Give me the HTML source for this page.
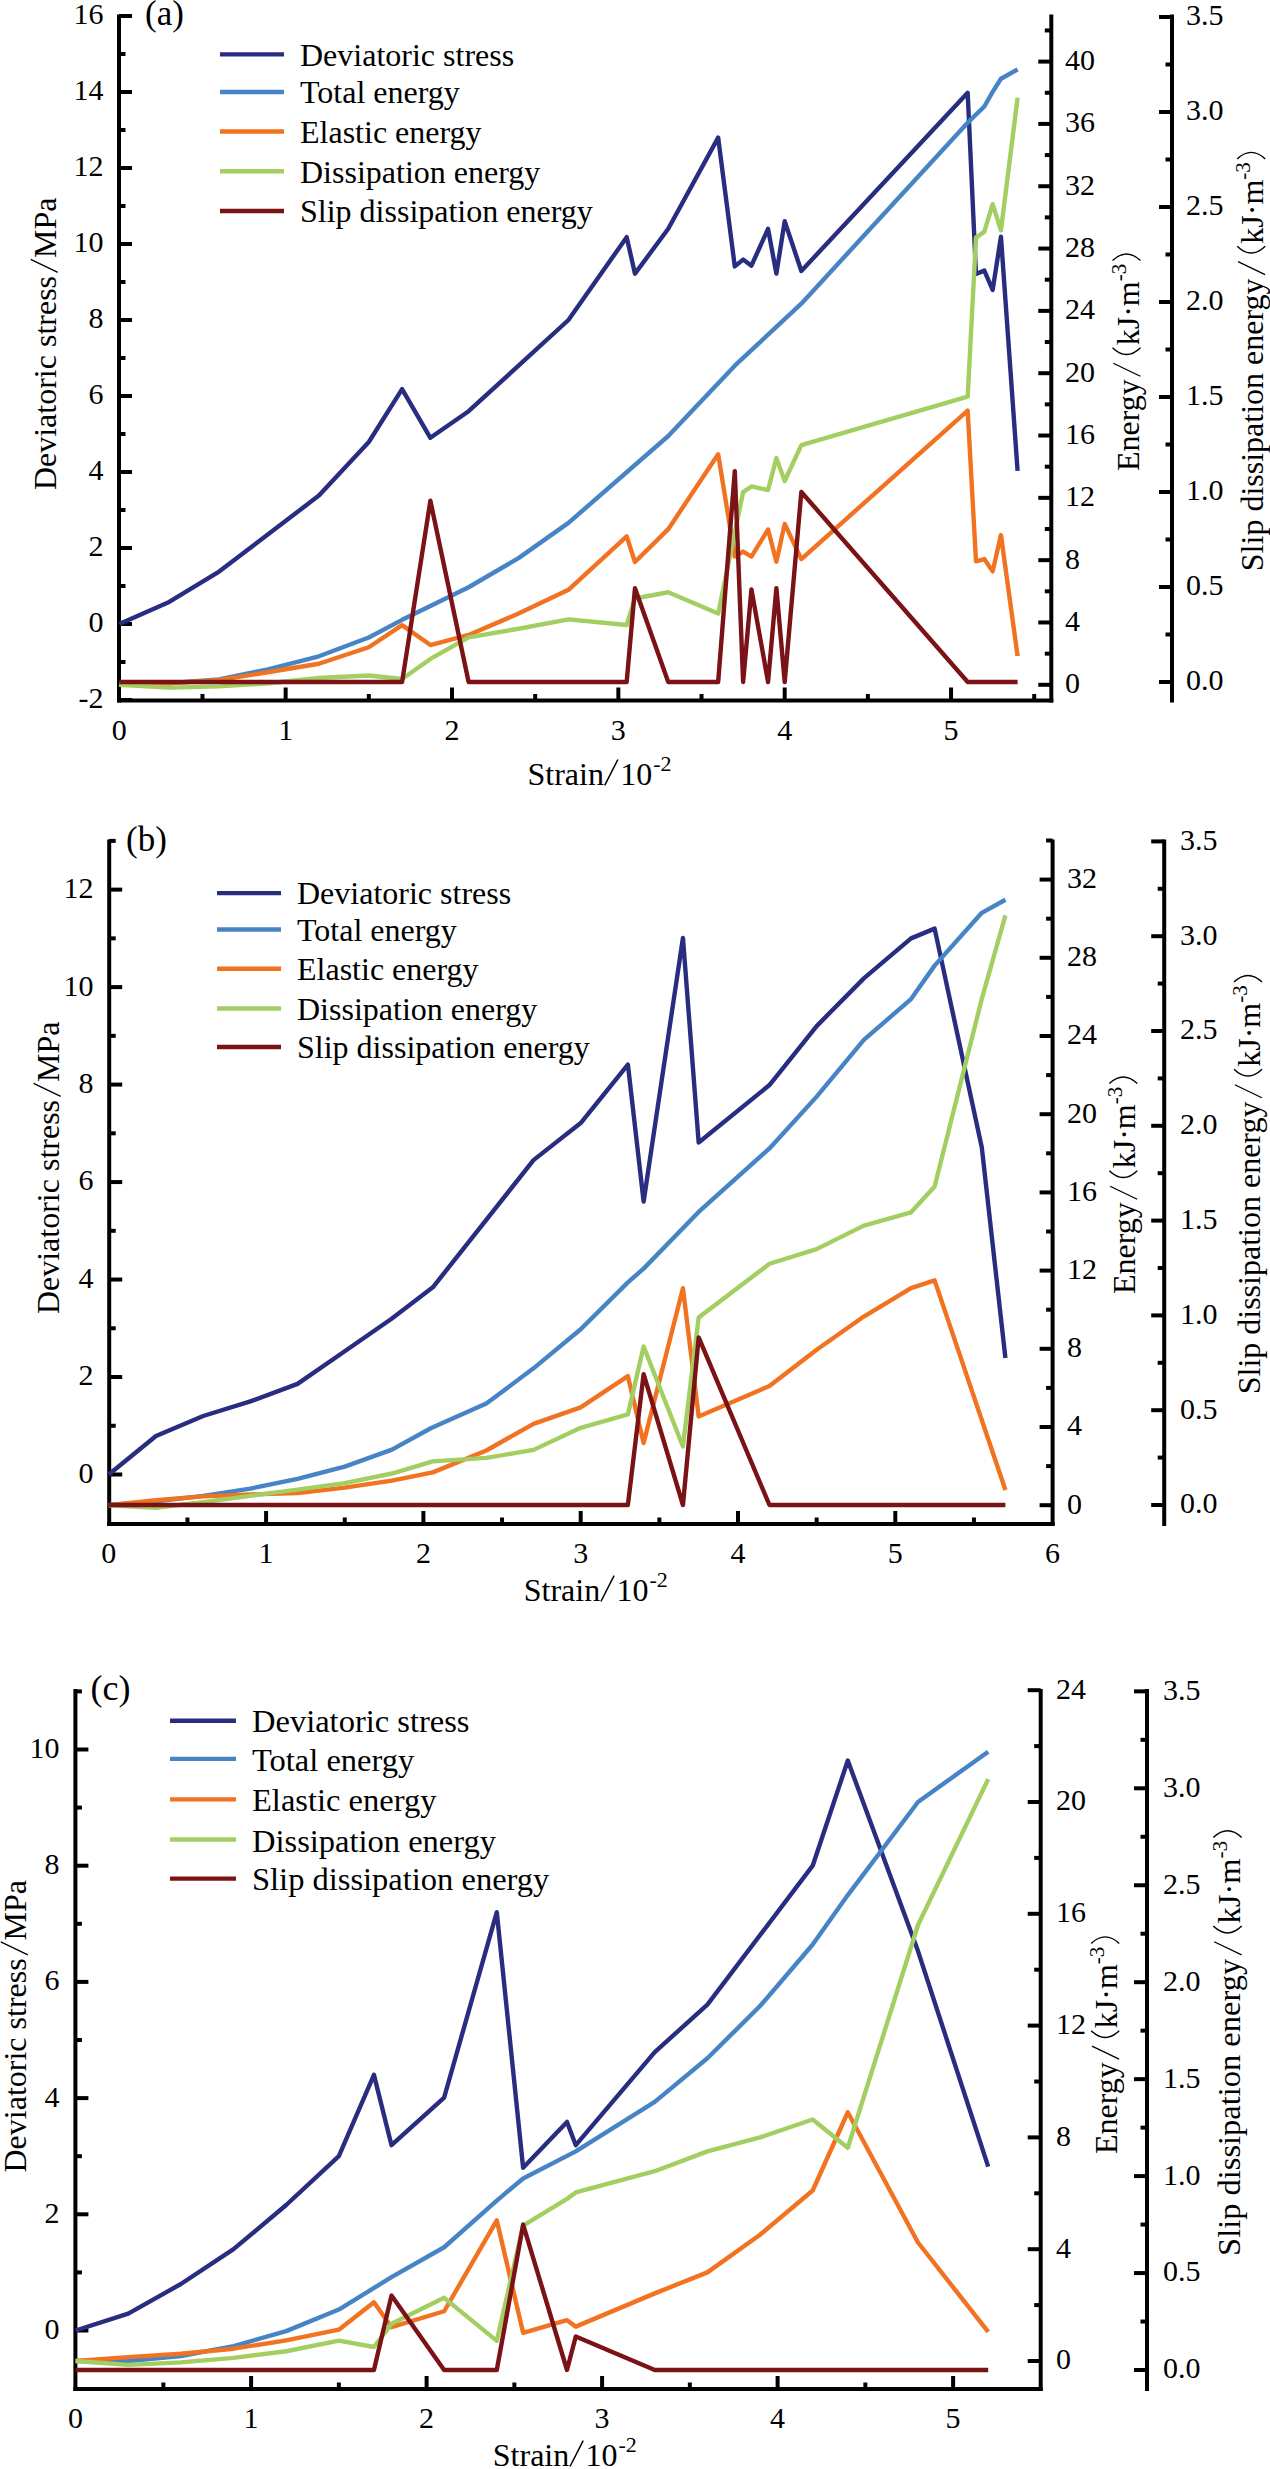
<!DOCTYPE html><html><head><meta charset="utf-8"><style>html,body{margin:0;padding:0;background:#fff;}svg{display:block;}</style></head><body>
<svg width="1270" height="2469" viewBox="0 0 1270 2469" font-family='"Liberation Serif", serif' fill="#000">
<rect width="1270" height="2469" fill="#fff"/>
<line x1="119" y1="14.5" x2="119" y2="702.5" stroke="#000" stroke-width="4.0" stroke-linecap="butt"/>
<line x1="117" y1="700.5" x2="1053.3" y2="700.5" stroke="#000" stroke-width="4.0" stroke-linecap="butt"/>
<line x1="1051.3" y1="14.5" x2="1051.3" y2="702.5" stroke="#000" stroke-width="4.0" stroke-linecap="butt"/>
<line x1="1172" y1="14.5" x2="1172" y2="702.5" stroke="#000" stroke-width="4.0" stroke-linecap="butt"/>
<line x1="119" y1="700" x2="132" y2="700" stroke="#000" stroke-width="4.0" stroke-linecap="butt"/>
<text x="103.5" y="708.4" font-size="30" text-anchor="end">-2</text>
<line x1="119" y1="662" x2="125.5" y2="662" stroke="#000" stroke-width="4.0" stroke-linecap="butt"/>
<line x1="119" y1="624" x2="132" y2="624" stroke="#000" stroke-width="4.0" stroke-linecap="butt"/>
<text x="103.5" y="632.4" font-size="30" text-anchor="end">0</text>
<line x1="119" y1="586" x2="125.5" y2="586" stroke="#000" stroke-width="4.0" stroke-linecap="butt"/>
<line x1="119" y1="548" x2="132" y2="548" stroke="#000" stroke-width="4.0" stroke-linecap="butt"/>
<text x="103.5" y="556.4" font-size="30" text-anchor="end">2</text>
<line x1="119" y1="510" x2="125.5" y2="510" stroke="#000" stroke-width="4.0" stroke-linecap="butt"/>
<line x1="119" y1="472" x2="132" y2="472" stroke="#000" stroke-width="4.0" stroke-linecap="butt"/>
<text x="103.5" y="480.4" font-size="30" text-anchor="end">4</text>
<line x1="119" y1="434" x2="125.5" y2="434" stroke="#000" stroke-width="4.0" stroke-linecap="butt"/>
<line x1="119" y1="396" x2="132" y2="396" stroke="#000" stroke-width="4.0" stroke-linecap="butt"/>
<text x="103.5" y="404.4" font-size="30" text-anchor="end">6</text>
<line x1="119" y1="358" x2="125.5" y2="358" stroke="#000" stroke-width="4.0" stroke-linecap="butt"/>
<line x1="119" y1="320" x2="132" y2="320" stroke="#000" stroke-width="4.0" stroke-linecap="butt"/>
<text x="103.5" y="328.4" font-size="30" text-anchor="end">8</text>
<line x1="119" y1="282" x2="125.5" y2="282" stroke="#000" stroke-width="4.0" stroke-linecap="butt"/>
<line x1="119" y1="244" x2="132" y2="244" stroke="#000" stroke-width="4.0" stroke-linecap="butt"/>
<text x="103.5" y="252.4" font-size="30" text-anchor="end">10</text>
<line x1="119" y1="206" x2="125.5" y2="206" stroke="#000" stroke-width="4.0" stroke-linecap="butt"/>
<line x1="119" y1="168" x2="132" y2="168" stroke="#000" stroke-width="4.0" stroke-linecap="butt"/>
<text x="103.5" y="176.4" font-size="30" text-anchor="end">12</text>
<line x1="119" y1="130" x2="125.5" y2="130" stroke="#000" stroke-width="4.0" stroke-linecap="butt"/>
<line x1="119" y1="92" x2="132" y2="92" stroke="#000" stroke-width="4.0" stroke-linecap="butt"/>
<text x="103.5" y="100.4" font-size="30" text-anchor="end">14</text>
<line x1="119" y1="54" x2="125.5" y2="54" stroke="#000" stroke-width="4.0" stroke-linecap="butt"/>
<line x1="119" y1="16" x2="132" y2="16" stroke="#000" stroke-width="4.0" stroke-linecap="butt"/>
<text x="103.5" y="24.4" font-size="30" text-anchor="end">16</text>
<text x="119.3" y="740" font-size="30" text-anchor="middle">0</text>
<line x1="202.47" y1="700.5" x2="202.47" y2="694" stroke="#000" stroke-width="4.0" stroke-linecap="butt"/>
<line x1="285.65" y1="700.5" x2="285.65" y2="687.5" stroke="#000" stroke-width="4.0" stroke-linecap="butt"/>
<text x="285.65" y="740" font-size="30" text-anchor="middle">1</text>
<line x1="368.82" y1="700.5" x2="368.82" y2="694" stroke="#000" stroke-width="4.0" stroke-linecap="butt"/>
<line x1="452" y1="700.5" x2="452" y2="687.5" stroke="#000" stroke-width="4.0" stroke-linecap="butt"/>
<text x="452" y="740" font-size="30" text-anchor="middle">2</text>
<line x1="535.17" y1="700.5" x2="535.17" y2="694" stroke="#000" stroke-width="4.0" stroke-linecap="butt"/>
<line x1="618.35" y1="700.5" x2="618.35" y2="687.5" stroke="#000" stroke-width="4.0" stroke-linecap="butt"/>
<text x="618.35" y="740" font-size="30" text-anchor="middle">3</text>
<line x1="701.52" y1="700.5" x2="701.52" y2="694" stroke="#000" stroke-width="4.0" stroke-linecap="butt"/>
<line x1="784.7" y1="700.5" x2="784.7" y2="687.5" stroke="#000" stroke-width="4.0" stroke-linecap="butt"/>
<text x="784.7" y="740" font-size="30" text-anchor="middle">4</text>
<line x1="867.87" y1="700.5" x2="867.87" y2="694" stroke="#000" stroke-width="4.0" stroke-linecap="butt"/>
<line x1="951.05" y1="700.5" x2="951.05" y2="687.5" stroke="#000" stroke-width="4.0" stroke-linecap="butt"/>
<text x="951.05" y="740" font-size="30" text-anchor="middle">5</text>
<line x1="1034.22" y1="700.5" x2="1034.22" y2="694" stroke="#000" stroke-width="4.0" stroke-linecap="butt"/>
<line x1="1051.3" y1="684.8" x2="1038.3" y2="684.8" stroke="#000" stroke-width="4.0" stroke-linecap="butt"/>
<text x="1065" y="693.2" font-size="30" text-anchor="start">0</text>
<line x1="1051.3" y1="653.64" x2="1044.8" y2="653.64" stroke="#000" stroke-width="4.0" stroke-linecap="butt"/>
<line x1="1051.3" y1="622.48" x2="1038.3" y2="622.48" stroke="#000" stroke-width="4.0" stroke-linecap="butt"/>
<text x="1065" y="630.88" font-size="30" text-anchor="start">4</text>
<line x1="1051.3" y1="591.32" x2="1044.8" y2="591.32" stroke="#000" stroke-width="4.0" stroke-linecap="butt"/>
<line x1="1051.3" y1="560.16" x2="1038.3" y2="560.16" stroke="#000" stroke-width="4.0" stroke-linecap="butt"/>
<text x="1065" y="568.56" font-size="30" text-anchor="start">8</text>
<line x1="1051.3" y1="529" x2="1044.8" y2="529" stroke="#000" stroke-width="4.0" stroke-linecap="butt"/>
<line x1="1051.3" y1="497.84" x2="1038.3" y2="497.84" stroke="#000" stroke-width="4.0" stroke-linecap="butt"/>
<text x="1065" y="506.24" font-size="30" text-anchor="start">12</text>
<line x1="1051.3" y1="466.68" x2="1044.8" y2="466.68" stroke="#000" stroke-width="4.0" stroke-linecap="butt"/>
<line x1="1051.3" y1="435.52" x2="1038.3" y2="435.52" stroke="#000" stroke-width="4.0" stroke-linecap="butt"/>
<text x="1065" y="443.92" font-size="30" text-anchor="start">16</text>
<line x1="1051.3" y1="404.36" x2="1044.8" y2="404.36" stroke="#000" stroke-width="4.0" stroke-linecap="butt"/>
<line x1="1051.3" y1="373.2" x2="1038.3" y2="373.2" stroke="#000" stroke-width="4.0" stroke-linecap="butt"/>
<text x="1065" y="381.6" font-size="30" text-anchor="start">20</text>
<line x1="1051.3" y1="342.04" x2="1044.8" y2="342.04" stroke="#000" stroke-width="4.0" stroke-linecap="butt"/>
<line x1="1051.3" y1="310.88" x2="1038.3" y2="310.88" stroke="#000" stroke-width="4.0" stroke-linecap="butt"/>
<text x="1065" y="319.28" font-size="30" text-anchor="start">24</text>
<line x1="1051.3" y1="279.72" x2="1044.8" y2="279.72" stroke="#000" stroke-width="4.0" stroke-linecap="butt"/>
<line x1="1051.3" y1="248.56" x2="1038.3" y2="248.56" stroke="#000" stroke-width="4.0" stroke-linecap="butt"/>
<text x="1065" y="256.96" font-size="30" text-anchor="start">28</text>
<line x1="1051.3" y1="217.4" x2="1044.8" y2="217.4" stroke="#000" stroke-width="4.0" stroke-linecap="butt"/>
<line x1="1051.3" y1="186.24" x2="1038.3" y2="186.24" stroke="#000" stroke-width="4.0" stroke-linecap="butt"/>
<text x="1065" y="194.64" font-size="30" text-anchor="start">32</text>
<line x1="1051.3" y1="155.08" x2="1044.8" y2="155.08" stroke="#000" stroke-width="4.0" stroke-linecap="butt"/>
<line x1="1051.3" y1="123.92" x2="1038.3" y2="123.92" stroke="#000" stroke-width="4.0" stroke-linecap="butt"/>
<text x="1065" y="132.32" font-size="30" text-anchor="start">36</text>
<line x1="1051.3" y1="92.76" x2="1044.8" y2="92.76" stroke="#000" stroke-width="4.0" stroke-linecap="butt"/>
<line x1="1051.3" y1="61.6" x2="1038.3" y2="61.6" stroke="#000" stroke-width="4.0" stroke-linecap="butt"/>
<text x="1065" y="70" font-size="30" text-anchor="start">40</text>
<line x1="1051.3" y1="30.44" x2="1044.8" y2="30.44" stroke="#000" stroke-width="4.0" stroke-linecap="butt"/>
<line x1="1172" y1="682" x2="1159" y2="682" stroke="#000" stroke-width="4.0" stroke-linecap="butt"/>
<text x="1186" y="690.4" font-size="30" text-anchor="start">0.0</text>
<line x1="1172" y1="634.5" x2="1165.5" y2="634.5" stroke="#000" stroke-width="4.0" stroke-linecap="butt"/>
<line x1="1172" y1="587" x2="1159" y2="587" stroke="#000" stroke-width="4.0" stroke-linecap="butt"/>
<text x="1186" y="595.4" font-size="30" text-anchor="start">0.5</text>
<line x1="1172" y1="539.5" x2="1165.5" y2="539.5" stroke="#000" stroke-width="4.0" stroke-linecap="butt"/>
<line x1="1172" y1="492" x2="1159" y2="492" stroke="#000" stroke-width="4.0" stroke-linecap="butt"/>
<text x="1186" y="500.4" font-size="30" text-anchor="start">1.0</text>
<line x1="1172" y1="444.5" x2="1165.5" y2="444.5" stroke="#000" stroke-width="4.0" stroke-linecap="butt"/>
<line x1="1172" y1="397" x2="1159" y2="397" stroke="#000" stroke-width="4.0" stroke-linecap="butt"/>
<text x="1186" y="405.4" font-size="30" text-anchor="start">1.5</text>
<line x1="1172" y1="349.5" x2="1165.5" y2="349.5" stroke="#000" stroke-width="4.0" stroke-linecap="butt"/>
<line x1="1172" y1="302" x2="1159" y2="302" stroke="#000" stroke-width="4.0" stroke-linecap="butt"/>
<text x="1186" y="310.4" font-size="30" text-anchor="start">2.0</text>
<line x1="1172" y1="254.5" x2="1165.5" y2="254.5" stroke="#000" stroke-width="4.0" stroke-linecap="butt"/>
<line x1="1172" y1="207" x2="1159" y2="207" stroke="#000" stroke-width="4.0" stroke-linecap="butt"/>
<text x="1186" y="215.4" font-size="30" text-anchor="start">2.5</text>
<line x1="1172" y1="159.5" x2="1165.5" y2="159.5" stroke="#000" stroke-width="4.0" stroke-linecap="butt"/>
<line x1="1172" y1="112" x2="1159" y2="112" stroke="#000" stroke-width="4.0" stroke-linecap="butt"/>
<text x="1186" y="120.4" font-size="30" text-anchor="start">3.0</text>
<line x1="1172" y1="64.5" x2="1165.5" y2="64.5" stroke="#000" stroke-width="4.0" stroke-linecap="butt"/>
<line x1="1172" y1="17" x2="1159" y2="17" stroke="#000" stroke-width="4.0" stroke-linecap="butt"/>
<text x="1186" y="25.4" font-size="30" text-anchor="start">3.5</text>
<polyline points="119.3,624 169.2,601.96 219.11,571.56 318.92,495.56 368.82,441.98 402.09,389.16 430.37,437.8 468.63,411.2 568.45,320 626.67,237.16 634.98,273.64 668.25,228.8 718.16,137.6 734.79,266.42 743.11,259.58 751.43,265.66 768.06,228.8 776.38,273.64 784.7,221.2 801.33,270.98 967.68,92.76 976,274.02 984.32,270.6 992.64,289.98 1000.95,236.78 1017.59,470.86" fill="none" stroke="#282d80" stroke-width="4.4" stroke-linejoin="round" stroke-linecap="butt"/>
<polyline points="119.3,684.8 169.2,683.24 219.11,679.35 269.01,669.06 318.92,656.29 368.82,637.44 402.09,619.83 430.37,605.97 468.63,587.27 518.54,558.13 568.45,522.92 668.25,435.99 734.79,365.72 801.33,303.71 967.68,122.67 984.32,106.47 992.64,91.83 1000.95,78.74 1017.59,69.39" fill="none" stroke="#4784c5" stroke-width="4.4" stroke-linejoin="round" stroke-linecap="butt"/>
<polyline points="119.3,684.8 169.2,683.24 219.11,680.13 269.01,672.02 318.92,663.77 368.82,647.25 402.09,625.13 430.37,645.07 468.63,634.94 518.54,613.6 568.45,589.76 626.67,536.32 634.98,562.03 668.25,529.16 718.16,454.22 734.79,556.58 743.11,551.59 751.43,556.58 768.06,529.47 776.38,561.72 784.7,523.86 801.33,559.07 967.68,410.59 976,561.41 984.32,559.07 992.64,571.38 1000.95,535.08 1017.59,655.98" fill="none" stroke="#f17220" stroke-width="4.4" stroke-linejoin="round" stroke-linecap="butt"/>
<polyline points="119.3,684.8 169.2,687.6 219.11,686.36 269.01,683.24 318.92,677.94 368.82,675.45 402.09,679.04 430.37,658.94 468.63,637.44 518.54,628.71 568.45,619.36 626.67,624.97 634.98,598.49 668.25,592.25 718.16,613.6 743.11,492.08 751.43,486.47 768.06,490.05 776.38,458.11 784.7,481.01 801.33,445.18 967.68,396.57 976,237.65 984.32,231.73 992.64,204.16 1000.95,230.33 1017.59,97.75" fill="none" stroke="#a3ce61" stroke-width="4.4" stroke-linejoin="round" stroke-linecap="butt"/>
<polyline points="119.3,682 402.09,682 430.37,500.74 468.63,682 626.67,682 634.98,588.14 668.25,682 718.16,682 734.79,471.1 743.11,682 751.43,589.47 768.06,682 776.38,588.14 784.7,682 801.33,492 967.68,682 1017.59,682" fill="none" stroke="#7b1216" stroke-width="4.4" stroke-linejoin="round" stroke-linecap="butt"/>
<line x1="220" y1="54.4" x2="284" y2="54.4" stroke="#282d80" stroke-width="4.4" stroke-linecap="butt"/>
<text x="300" y="65.6" font-size="32" text-anchor="start">Deviatoric stress</text>
<line x1="220" y1="92" x2="284" y2="92" stroke="#4784c5" stroke-width="4.4" stroke-linecap="butt"/>
<text x="300" y="103.2" font-size="32" text-anchor="start">Total energy</text>
<line x1="220" y1="131.5" x2="284" y2="131.5" stroke="#f17220" stroke-width="4.4" stroke-linecap="butt"/>
<text x="300" y="142.7" font-size="32" text-anchor="start">Elastic energy</text>
<line x1="220" y1="171.3" x2="284" y2="171.3" stroke="#a3ce61" stroke-width="4.4" stroke-linecap="butt"/>
<text x="300" y="182.5" font-size="32" text-anchor="start">Dissipation energy</text>
<line x1="220" y1="211" x2="284" y2="211" stroke="#7b1216" stroke-width="4.4" stroke-linecap="butt"/>
<text x="300" y="222.2" font-size="32" text-anchor="start">Slip dissipation energy</text>
<text x="145" y="25" font-size="35" text-anchor="start">(a)</text>
<g transform="translate(528.8 784.7)">
<text x="-1.3" y="0" font-size="32">Strain</text>
<path d="M75.9 0.6 L89.1 -25.2" stroke="#000" stroke-width="1.5" fill="none"/>
<text x="91.5" y="0" font-size="32">10</text>
<text x="124.4" y="-13.9" font-size="22">-2</text>
</g>
<g transform="translate(55.9 489.6) rotate(-90)">
<text x="-0.5" y="0" font-size="32">Deviatoric stress</text>
<path d="M217.16 1.9 L230.16 -25.2" stroke="#000" stroke-width="1.3" fill="none"/>
<text x="231.56" y="0" font-size="32">MPa</text>
</g>
<g transform="translate(1138.5 470.6) rotate(-90) scale(1.0)">
<text x="-0.5" y="0" font-size="32">Energy</text>
<path d="M94.33 1.9 L107.33 -25.2" stroke="#000" stroke-width="1.3" fill="none"/>
<path d="M122.83 2 Q109.23 -12 122.83 -26" stroke="#000" stroke-width="1.4" fill="none"/>
<text x="125.33" y="0" font-size="32">kJ·m</text>
<text x="189.33" y="-13" font-size="21">-3</text>
<path d="M210.03 2 Q223.23 -12 210.03 -26" stroke="#000" stroke-width="1.4" fill="none"/>
</g>
<g transform="translate(1263.2 569.9) rotate(-90) scale(1.0)">
<text x="-1.3" y="0" font-size="32">Slip dissipation energy</text>
<path d="M295.23 1.9 L308.23 -25.2" stroke="#000" stroke-width="1.3" fill="none"/>
<path d="M323.73 2 Q310.13 -12 323.73 -26" stroke="#000" stroke-width="1.4" fill="none"/>
<text x="326.23" y="0" font-size="32">kJ·m</text>
<text x="390.23" y="-13" font-size="21">-3</text>
<path d="M410.93 2 Q424.13 -12 410.93 -26" stroke="#000" stroke-width="1.4" fill="none"/>
</g>
<line x1="109.2" y1="839.5" x2="109.2" y2="1526" stroke="#000" stroke-width="4.0" stroke-linecap="butt"/>
<line x1="107.2" y1="1524" x2="1054.6" y2="1524" stroke="#000" stroke-width="4.0" stroke-linecap="butt"/>
<line x1="1052.6" y1="839.5" x2="1052.6" y2="1526" stroke="#000" stroke-width="4.0" stroke-linecap="butt"/>
<line x1="1164.2" y1="839.5" x2="1164.2" y2="1526" stroke="#000" stroke-width="4.0" stroke-linecap="butt"/>
<line x1="109.2" y1="1474.5" x2="122.2" y2="1474.5" stroke="#000" stroke-width="4.0" stroke-linecap="butt"/>
<text x="93.5" y="1482.9" font-size="30" text-anchor="end">0</text>
<line x1="109.2" y1="1425.76" x2="115.7" y2="1425.76" stroke="#000" stroke-width="4.0" stroke-linecap="butt"/>
<line x1="109.2" y1="1377.02" x2="122.2" y2="1377.02" stroke="#000" stroke-width="4.0" stroke-linecap="butt"/>
<text x="93.5" y="1385.42" font-size="30" text-anchor="end">2</text>
<line x1="109.2" y1="1328.28" x2="115.7" y2="1328.28" stroke="#000" stroke-width="4.0" stroke-linecap="butt"/>
<line x1="109.2" y1="1279.54" x2="122.2" y2="1279.54" stroke="#000" stroke-width="4.0" stroke-linecap="butt"/>
<text x="93.5" y="1287.94" font-size="30" text-anchor="end">4</text>
<line x1="109.2" y1="1230.8" x2="115.7" y2="1230.8" stroke="#000" stroke-width="4.0" stroke-linecap="butt"/>
<line x1="109.2" y1="1182.06" x2="122.2" y2="1182.06" stroke="#000" stroke-width="4.0" stroke-linecap="butt"/>
<text x="93.5" y="1190.46" font-size="30" text-anchor="end">6</text>
<line x1="109.2" y1="1133.32" x2="115.7" y2="1133.32" stroke="#000" stroke-width="4.0" stroke-linecap="butt"/>
<line x1="109.2" y1="1084.58" x2="122.2" y2="1084.58" stroke="#000" stroke-width="4.0" stroke-linecap="butt"/>
<text x="93.5" y="1092.98" font-size="30" text-anchor="end">8</text>
<line x1="109.2" y1="1035.84" x2="115.7" y2="1035.84" stroke="#000" stroke-width="4.0" stroke-linecap="butt"/>
<line x1="109.2" y1="987.1" x2="122.2" y2="987.1" stroke="#000" stroke-width="4.0" stroke-linecap="butt"/>
<text x="93.5" y="995.5" font-size="30" text-anchor="end">10</text>
<line x1="109.2" y1="938.36" x2="115.7" y2="938.36" stroke="#000" stroke-width="4.0" stroke-linecap="butt"/>
<line x1="109.2" y1="889.62" x2="122.2" y2="889.62" stroke="#000" stroke-width="4.0" stroke-linecap="butt"/>
<text x="93.5" y="898.02" font-size="30" text-anchor="end">12</text>
<line x1="109.2" y1="840.88" x2="115.7" y2="840.88" stroke="#000" stroke-width="4.0" stroke-linecap="butt"/>
<text x="108.8" y="1563" font-size="30" text-anchor="middle">0</text>
<line x1="187.45" y1="1524" x2="187.45" y2="1517.5" stroke="#000" stroke-width="4.0" stroke-linecap="butt"/>
<line x1="266.1" y1="1524" x2="266.1" y2="1511" stroke="#000" stroke-width="4.0" stroke-linecap="butt"/>
<text x="266.1" y="1563" font-size="30" text-anchor="middle">1</text>
<line x1="344.75" y1="1524" x2="344.75" y2="1517.5" stroke="#000" stroke-width="4.0" stroke-linecap="butt"/>
<line x1="423.4" y1="1524" x2="423.4" y2="1511" stroke="#000" stroke-width="4.0" stroke-linecap="butt"/>
<text x="423.4" y="1563" font-size="30" text-anchor="middle">2</text>
<line x1="502.05" y1="1524" x2="502.05" y2="1517.5" stroke="#000" stroke-width="4.0" stroke-linecap="butt"/>
<line x1="580.7" y1="1524" x2="580.7" y2="1511" stroke="#000" stroke-width="4.0" stroke-linecap="butt"/>
<text x="580.7" y="1563" font-size="30" text-anchor="middle">3</text>
<line x1="659.35" y1="1524" x2="659.35" y2="1517.5" stroke="#000" stroke-width="4.0" stroke-linecap="butt"/>
<line x1="738" y1="1524" x2="738" y2="1511" stroke="#000" stroke-width="4.0" stroke-linecap="butt"/>
<text x="738" y="1563" font-size="30" text-anchor="middle">4</text>
<line x1="816.65" y1="1524" x2="816.65" y2="1517.5" stroke="#000" stroke-width="4.0" stroke-linecap="butt"/>
<line x1="895.3" y1="1524" x2="895.3" y2="1511" stroke="#000" stroke-width="4.0" stroke-linecap="butt"/>
<text x="895.3" y="1563" font-size="30" text-anchor="middle">5</text>
<line x1="973.95" y1="1524" x2="973.95" y2="1517.5" stroke="#000" stroke-width="4.0" stroke-linecap="butt"/>
<text x="1052.6" y="1563" font-size="30" text-anchor="middle">6</text>
<line x1="1052.6" y1="1505.2" x2="1039.6" y2="1505.2" stroke="#000" stroke-width="4.0" stroke-linecap="butt"/>
<text x="1067" y="1513.6" font-size="30" text-anchor="start">0</text>
<line x1="1052.6" y1="1466.1" x2="1046.1" y2="1466.1" stroke="#000" stroke-width="4.0" stroke-linecap="butt"/>
<line x1="1052.6" y1="1427" x2="1039.6" y2="1427" stroke="#000" stroke-width="4.0" stroke-linecap="butt"/>
<text x="1067" y="1435.4" font-size="30" text-anchor="start">4</text>
<line x1="1052.6" y1="1387.9" x2="1046.1" y2="1387.9" stroke="#000" stroke-width="4.0" stroke-linecap="butt"/>
<line x1="1052.6" y1="1348.8" x2="1039.6" y2="1348.8" stroke="#000" stroke-width="4.0" stroke-linecap="butt"/>
<text x="1067" y="1357.2" font-size="30" text-anchor="start">8</text>
<line x1="1052.6" y1="1309.7" x2="1046.1" y2="1309.7" stroke="#000" stroke-width="4.0" stroke-linecap="butt"/>
<line x1="1052.6" y1="1270.6" x2="1039.6" y2="1270.6" stroke="#000" stroke-width="4.0" stroke-linecap="butt"/>
<text x="1067" y="1279" font-size="30" text-anchor="start">12</text>
<line x1="1052.6" y1="1231.5" x2="1046.1" y2="1231.5" stroke="#000" stroke-width="4.0" stroke-linecap="butt"/>
<line x1="1052.6" y1="1192.4" x2="1039.6" y2="1192.4" stroke="#000" stroke-width="4.0" stroke-linecap="butt"/>
<text x="1067" y="1200.8" font-size="30" text-anchor="start">16</text>
<line x1="1052.6" y1="1153.3" x2="1046.1" y2="1153.3" stroke="#000" stroke-width="4.0" stroke-linecap="butt"/>
<line x1="1052.6" y1="1114.2" x2="1039.6" y2="1114.2" stroke="#000" stroke-width="4.0" stroke-linecap="butt"/>
<text x="1067" y="1122.6" font-size="30" text-anchor="start">20</text>
<line x1="1052.6" y1="1075.1" x2="1046.1" y2="1075.1" stroke="#000" stroke-width="4.0" stroke-linecap="butt"/>
<line x1="1052.6" y1="1036" x2="1039.6" y2="1036" stroke="#000" stroke-width="4.0" stroke-linecap="butt"/>
<text x="1067" y="1044.4" font-size="30" text-anchor="start">24</text>
<line x1="1052.6" y1="996.9" x2="1046.1" y2="996.9" stroke="#000" stroke-width="4.0" stroke-linecap="butt"/>
<line x1="1052.6" y1="957.8" x2="1039.6" y2="957.8" stroke="#000" stroke-width="4.0" stroke-linecap="butt"/>
<text x="1067" y="966.2" font-size="30" text-anchor="start">28</text>
<line x1="1052.6" y1="918.7" x2="1046.1" y2="918.7" stroke="#000" stroke-width="4.0" stroke-linecap="butt"/>
<line x1="1052.6" y1="879.6" x2="1039.6" y2="879.6" stroke="#000" stroke-width="4.0" stroke-linecap="butt"/>
<text x="1067" y="888" font-size="30" text-anchor="start">32</text>
<line x1="1052.6" y1="840.5" x2="1046.1" y2="840.5" stroke="#000" stroke-width="4.0" stroke-linecap="butt"/>
<line x1="1164.2" y1="1505" x2="1151.2" y2="1505" stroke="#000" stroke-width="4.0" stroke-linecap="butt"/>
<text x="1180" y="1513.4" font-size="30" text-anchor="start">0.0</text>
<line x1="1164.2" y1="1457.6" x2="1157.7" y2="1457.6" stroke="#000" stroke-width="4.0" stroke-linecap="butt"/>
<line x1="1164.2" y1="1410.2" x2="1151.2" y2="1410.2" stroke="#000" stroke-width="4.0" stroke-linecap="butt"/>
<text x="1180" y="1418.6" font-size="30" text-anchor="start">0.5</text>
<line x1="1164.2" y1="1362.8" x2="1157.7" y2="1362.8" stroke="#000" stroke-width="4.0" stroke-linecap="butt"/>
<line x1="1164.2" y1="1315.4" x2="1151.2" y2="1315.4" stroke="#000" stroke-width="4.0" stroke-linecap="butt"/>
<text x="1180" y="1323.8" font-size="30" text-anchor="start">1.0</text>
<line x1="1164.2" y1="1268" x2="1157.7" y2="1268" stroke="#000" stroke-width="4.0" stroke-linecap="butt"/>
<line x1="1164.2" y1="1220.6" x2="1151.2" y2="1220.6" stroke="#000" stroke-width="4.0" stroke-linecap="butt"/>
<text x="1180" y="1229" font-size="30" text-anchor="start">1.5</text>
<line x1="1164.2" y1="1173.2" x2="1157.7" y2="1173.2" stroke="#000" stroke-width="4.0" stroke-linecap="butt"/>
<line x1="1164.2" y1="1125.8" x2="1151.2" y2="1125.8" stroke="#000" stroke-width="4.0" stroke-linecap="butt"/>
<text x="1180" y="1134.2" font-size="30" text-anchor="start">2.0</text>
<line x1="1164.2" y1="1078.4" x2="1157.7" y2="1078.4" stroke="#000" stroke-width="4.0" stroke-linecap="butt"/>
<line x1="1164.2" y1="1031" x2="1151.2" y2="1031" stroke="#000" stroke-width="4.0" stroke-linecap="butt"/>
<text x="1180" y="1039.4" font-size="30" text-anchor="start">2.5</text>
<line x1="1164.2" y1="983.6" x2="1157.7" y2="983.6" stroke="#000" stroke-width="4.0" stroke-linecap="butt"/>
<line x1="1164.2" y1="936.2" x2="1151.2" y2="936.2" stroke="#000" stroke-width="4.0" stroke-linecap="butt"/>
<text x="1180" y="944.6" font-size="30" text-anchor="start">3.0</text>
<line x1="1164.2" y1="888.8" x2="1157.7" y2="888.8" stroke="#000" stroke-width="4.0" stroke-linecap="butt"/>
<line x1="1164.2" y1="841.4" x2="1151.2" y2="841.4" stroke="#000" stroke-width="4.0" stroke-linecap="butt"/>
<text x="1180" y="849.8" font-size="30" text-anchor="start">3.5</text>
<polyline points="108.8,1474.5 155.99,1436 203.18,1416.01 250.37,1401.39 297.56,1383.84 344.75,1351.19 391.94,1318.53 432.84,1287.34 533.51,1160.13 580.7,1123.08 627.89,1064.6 643.62,1201.56 682.94,937.87 698.67,1142.58 769.46,1085.07 816.65,1026.09 863.84,978.33 911.03,938.36 934.62,928.61 981.81,1147.45 1005.41,1358.01" fill="none" stroke="#282d80" stroke-width="4.4" stroke-linejoin="round" stroke-linecap="butt"/>
<polyline points="108.8,1505.2 155.99,1501.29 203.18,1495.82 250.37,1488.58 297.56,1478.81 344.75,1466.69 391.94,1449.68 431.26,1427.98 486.32,1403.54 533.51,1368.35 580.7,1329.25 627.89,1282.33 643.62,1268.64 698.67,1211.95 769.46,1148.41 816.65,1096.61 863.84,1039.91 911.03,999.05 934.62,965.62 981.81,912.84 1005.41,899.74" fill="none" stroke="#4784c5" stroke-width="4.4" stroke-linejoin="round" stroke-linecap="butt"/>
<polyline points="108.8,1505.2 155.99,1500.31 203.18,1496.4 250.37,1494.45 297.56,1493.08 344.75,1487.61 391.94,1480.57 432.84,1472.36 486.32,1450.46 533.51,1423.87 580.7,1407.45 627.89,1376.17 643.62,1443.03 682.94,1288.2 698.67,1416.44 769.46,1385.95 816.65,1349.78 863.84,1316.54 911.03,1288.2 934.62,1280.38 1005.41,1489.95" fill="none" stroke="#f17220" stroke-width="4.4" stroke-linejoin="round" stroke-linecap="butt"/>
<polyline points="108.8,1505.2 155.99,1507.74 203.18,1502.07 250.37,1495.82 297.56,1489.56 344.75,1483.11 391.94,1473.53 432.84,1461.41 486.32,1457.89 533.51,1449.87 580.7,1427.78 627.89,1414.49 643.62,1346.45 682.94,1446.55 698.67,1317.52 769.46,1263.76 816.65,1249.1 863.84,1225.63 911.03,1212.34 934.62,1186.54 981.81,998.86 1005.41,915.38" fill="none" stroke="#a3ce61" stroke-width="4.4" stroke-linejoin="round" stroke-linecap="butt"/>
<polyline points="108.8,1505 627.89,1505 643.62,1374.18 682.94,1505 698.67,1337.39 769.46,1505 1005.41,1505" fill="none" stroke="#7b1216" stroke-width="4.4" stroke-linejoin="round" stroke-linecap="butt"/>
<line x1="217" y1="893.1" x2="281" y2="893.1" stroke="#282d80" stroke-width="4.4" stroke-linecap="butt"/>
<text x="297" y="904.3" font-size="32" text-anchor="start">Deviatoric stress</text>
<line x1="217" y1="929.5" x2="281" y2="929.5" stroke="#4784c5" stroke-width="4.4" stroke-linecap="butt"/>
<text x="297" y="940.7" font-size="32" text-anchor="start">Total energy</text>
<line x1="217" y1="968.8" x2="281" y2="968.8" stroke="#f17220" stroke-width="4.4" stroke-linecap="butt"/>
<text x="297" y="980" font-size="32" text-anchor="start">Elastic energy</text>
<line x1="217" y1="1008.5" x2="281" y2="1008.5" stroke="#a3ce61" stroke-width="4.4" stroke-linecap="butt"/>
<text x="297" y="1019.7" font-size="32" text-anchor="start">Dissipation energy</text>
<line x1="217" y1="1047" x2="281" y2="1047" stroke="#7b1216" stroke-width="4.4" stroke-linecap="butt"/>
<text x="297" y="1058.2" font-size="32" text-anchor="start">Slip dissipation energy</text>
<text x="126" y="851.2" font-size="35" text-anchor="start">(b)</text>
<g transform="translate(525 1600.9)">
<text x="-1.3" y="0" font-size="32">Strain</text>
<path d="M75.9 0.6 L89.1 -25.2" stroke="#000" stroke-width="1.5" fill="none"/>
<text x="91.5" y="0" font-size="32">10</text>
<text x="124.4" y="-13.9" font-size="22">-2</text>
</g>
<g transform="translate(58.8 1313.6) rotate(-90)">
<text x="-0.5" y="0" font-size="32">Deviatoric stress</text>
<path d="M217.16 1.9 L230.16 -25.2" stroke="#000" stroke-width="1.3" fill="none"/>
<text x="231.56" y="0" font-size="32">MPa</text>
</g>
<g transform="translate(1135.3 1293.6) rotate(-90) scale(1.0)">
<text x="-0.5" y="0" font-size="32">Energy</text>
<path d="M94.33 1.9 L107.33 -25.2" stroke="#000" stroke-width="1.3" fill="none"/>
<path d="M122.83 2 Q109.23 -12 122.83 -26" stroke="#000" stroke-width="1.4" fill="none"/>
<text x="125.33" y="0" font-size="32">kJ·m</text>
<text x="189.33" y="-13" font-size="21">-3</text>
<path d="M210.03 2 Q223.23 -12 210.03 -26" stroke="#000" stroke-width="1.4" fill="none"/>
</g>
<g transform="translate(1260 1393) rotate(-90) scale(1.0)">
<text x="-1.3" y="0" font-size="32">Slip dissipation energy</text>
<path d="M295.23 1.9 L308.23 -25.2" stroke="#000" stroke-width="1.3" fill="none"/>
<path d="M323.73 2 Q310.13 -12 323.73 -26" stroke="#000" stroke-width="1.4" fill="none"/>
<text x="326.23" y="0" font-size="32">kJ·m</text>
<text x="390.23" y="-13" font-size="21">-3</text>
<path d="M410.93 2 Q424.13 -12 410.93 -26" stroke="#000" stroke-width="1.4" fill="none"/>
</g>
<line x1="75.4" y1="1689" x2="75.4" y2="2391" stroke="#000" stroke-width="4.0" stroke-linecap="butt"/>
<line x1="73.4" y1="2389" x2="1042.7" y2="2389" stroke="#000" stroke-width="4.0" stroke-linecap="butt"/>
<line x1="1040.7" y1="1689" x2="1040.7" y2="2391" stroke="#000" stroke-width="4.0" stroke-linecap="butt"/>
<line x1="1147" y1="1689" x2="1147" y2="2391" stroke="#000" stroke-width="4.0" stroke-linecap="butt"/>
<line x1="75.4" y1="2330.5" x2="88.4" y2="2330.5" stroke="#000" stroke-width="4.0" stroke-linecap="butt"/>
<text x="59.5" y="2338.9" font-size="30" text-anchor="end">0</text>
<line x1="75.4" y1="2272.4" x2="81.9" y2="2272.4" stroke="#000" stroke-width="4.0" stroke-linecap="butt"/>
<line x1="75.4" y1="2214.3" x2="88.4" y2="2214.3" stroke="#000" stroke-width="4.0" stroke-linecap="butt"/>
<text x="59.5" y="2222.7" font-size="30" text-anchor="end">2</text>
<line x1="75.4" y1="2156.2" x2="81.9" y2="2156.2" stroke="#000" stroke-width="4.0" stroke-linecap="butt"/>
<line x1="75.4" y1="2098.1" x2="88.4" y2="2098.1" stroke="#000" stroke-width="4.0" stroke-linecap="butt"/>
<text x="59.5" y="2106.5" font-size="30" text-anchor="end">4</text>
<line x1="75.4" y1="2040" x2="81.9" y2="2040" stroke="#000" stroke-width="4.0" stroke-linecap="butt"/>
<line x1="75.4" y1="1981.9" x2="88.4" y2="1981.9" stroke="#000" stroke-width="4.0" stroke-linecap="butt"/>
<text x="59.5" y="1990.3" font-size="30" text-anchor="end">6</text>
<line x1="75.4" y1="1923.8" x2="81.9" y2="1923.8" stroke="#000" stroke-width="4.0" stroke-linecap="butt"/>
<line x1="75.4" y1="1865.7" x2="88.4" y2="1865.7" stroke="#000" stroke-width="4.0" stroke-linecap="butt"/>
<text x="59.5" y="1874.1" font-size="30" text-anchor="end">8</text>
<line x1="75.4" y1="1807.6" x2="81.9" y2="1807.6" stroke="#000" stroke-width="4.0" stroke-linecap="butt"/>
<line x1="75.4" y1="1749.5" x2="88.4" y2="1749.5" stroke="#000" stroke-width="4.0" stroke-linecap="butt"/>
<text x="59.5" y="1757.9" font-size="30" text-anchor="end">10</text>
<line x1="75.4" y1="1691.4" x2="81.9" y2="1691.4" stroke="#000" stroke-width="4.0" stroke-linecap="butt"/>
<text x="75.6" y="2428" font-size="30" text-anchor="middle">0</text>
<line x1="163.35" y1="2389" x2="163.35" y2="2382.5" stroke="#000" stroke-width="4.0" stroke-linecap="butt"/>
<line x1="251.1" y1="2389" x2="251.1" y2="2376" stroke="#000" stroke-width="4.0" stroke-linecap="butt"/>
<text x="251.1" y="2428" font-size="30" text-anchor="middle">1</text>
<line x1="338.85" y1="2389" x2="338.85" y2="2382.5" stroke="#000" stroke-width="4.0" stroke-linecap="butt"/>
<line x1="426.6" y1="2389" x2="426.6" y2="2376" stroke="#000" stroke-width="4.0" stroke-linecap="butt"/>
<text x="426.6" y="2428" font-size="30" text-anchor="middle">2</text>
<line x1="514.35" y1="2389" x2="514.35" y2="2382.5" stroke="#000" stroke-width="4.0" stroke-linecap="butt"/>
<line x1="602.1" y1="2389" x2="602.1" y2="2376" stroke="#000" stroke-width="4.0" stroke-linecap="butt"/>
<text x="602.1" y="2428" font-size="30" text-anchor="middle">3</text>
<line x1="689.85" y1="2389" x2="689.85" y2="2382.5" stroke="#000" stroke-width="4.0" stroke-linecap="butt"/>
<line x1="777.6" y1="2389" x2="777.6" y2="2376" stroke="#000" stroke-width="4.0" stroke-linecap="butt"/>
<text x="777.6" y="2428" font-size="30" text-anchor="middle">4</text>
<line x1="865.35" y1="2389" x2="865.35" y2="2382.5" stroke="#000" stroke-width="4.0" stroke-linecap="butt"/>
<line x1="953.1" y1="2389" x2="953.1" y2="2376" stroke="#000" stroke-width="4.0" stroke-linecap="butt"/>
<text x="953.1" y="2428" font-size="30" text-anchor="middle">5</text>
<line x1="1040.7" y1="2361" x2="1027.7" y2="2361" stroke="#000" stroke-width="4.0" stroke-linecap="butt"/>
<text x="1056" y="2369.4" font-size="30" text-anchor="start">0</text>
<line x1="1040.7" y1="2305.1" x2="1034.2" y2="2305.1" stroke="#000" stroke-width="4.0" stroke-linecap="butt"/>
<line x1="1040.7" y1="2249.2" x2="1027.7" y2="2249.2" stroke="#000" stroke-width="4.0" stroke-linecap="butt"/>
<text x="1056" y="2257.6" font-size="30" text-anchor="start">4</text>
<line x1="1040.7" y1="2193.3" x2="1034.2" y2="2193.3" stroke="#000" stroke-width="4.0" stroke-linecap="butt"/>
<line x1="1040.7" y1="2137.4" x2="1027.7" y2="2137.4" stroke="#000" stroke-width="4.0" stroke-linecap="butt"/>
<text x="1056" y="2145.8" font-size="30" text-anchor="start">8</text>
<line x1="1040.7" y1="2081.5" x2="1034.2" y2="2081.5" stroke="#000" stroke-width="4.0" stroke-linecap="butt"/>
<line x1="1040.7" y1="2025.6" x2="1027.7" y2="2025.6" stroke="#000" stroke-width="4.0" stroke-linecap="butt"/>
<text x="1056" y="2034" font-size="30" text-anchor="start">12</text>
<line x1="1040.7" y1="1969.7" x2="1034.2" y2="1969.7" stroke="#000" stroke-width="4.0" stroke-linecap="butt"/>
<line x1="1040.7" y1="1913.8" x2="1027.7" y2="1913.8" stroke="#000" stroke-width="4.0" stroke-linecap="butt"/>
<text x="1056" y="1922.2" font-size="30" text-anchor="start">16</text>
<line x1="1040.7" y1="1857.9" x2="1034.2" y2="1857.9" stroke="#000" stroke-width="4.0" stroke-linecap="butt"/>
<line x1="1040.7" y1="1802" x2="1027.7" y2="1802" stroke="#000" stroke-width="4.0" stroke-linecap="butt"/>
<text x="1056" y="1810.4" font-size="30" text-anchor="start">20</text>
<line x1="1040.7" y1="1746.1" x2="1034.2" y2="1746.1" stroke="#000" stroke-width="4.0" stroke-linecap="butt"/>
<line x1="1040.7" y1="1690.2" x2="1027.7" y2="1690.2" stroke="#000" stroke-width="4.0" stroke-linecap="butt"/>
<text x="1056" y="1698.6" font-size="30" text-anchor="start">24</text>
<line x1="1147" y1="2370" x2="1134" y2="2370" stroke="#000" stroke-width="4.0" stroke-linecap="butt"/>
<text x="1163" y="2378.4" font-size="30" text-anchor="start">0.0</text>
<line x1="1147" y1="2321.53" x2="1140.5" y2="2321.53" stroke="#000" stroke-width="4.0" stroke-linecap="butt"/>
<line x1="1147" y1="2273.05" x2="1134" y2="2273.05" stroke="#000" stroke-width="4.0" stroke-linecap="butt"/>
<text x="1163" y="2281.45" font-size="30" text-anchor="start">0.5</text>
<line x1="1147" y1="2224.57" x2="1140.5" y2="2224.57" stroke="#000" stroke-width="4.0" stroke-linecap="butt"/>
<line x1="1147" y1="2176.1" x2="1134" y2="2176.1" stroke="#000" stroke-width="4.0" stroke-linecap="butt"/>
<text x="1163" y="2184.5" font-size="30" text-anchor="start">1.0</text>
<line x1="1147" y1="2127.62" x2="1140.5" y2="2127.62" stroke="#000" stroke-width="4.0" stroke-linecap="butt"/>
<line x1="1147" y1="2079.15" x2="1134" y2="2079.15" stroke="#000" stroke-width="4.0" stroke-linecap="butt"/>
<text x="1163" y="2087.55" font-size="30" text-anchor="start">1.5</text>
<line x1="1147" y1="2030.67" x2="1140.5" y2="2030.67" stroke="#000" stroke-width="4.0" stroke-linecap="butt"/>
<line x1="1147" y1="1982.2" x2="1134" y2="1982.2" stroke="#000" stroke-width="4.0" stroke-linecap="butt"/>
<text x="1163" y="1990.6" font-size="30" text-anchor="start">2.0</text>
<line x1="1147" y1="1933.72" x2="1140.5" y2="1933.72" stroke="#000" stroke-width="4.0" stroke-linecap="butt"/>
<line x1="1147" y1="1885.25" x2="1134" y2="1885.25" stroke="#000" stroke-width="4.0" stroke-linecap="butt"/>
<text x="1163" y="1893.65" font-size="30" text-anchor="start">2.5</text>
<line x1="1147" y1="1836.78" x2="1140.5" y2="1836.78" stroke="#000" stroke-width="4.0" stroke-linecap="butt"/>
<line x1="1147" y1="1788.3" x2="1134" y2="1788.3" stroke="#000" stroke-width="4.0" stroke-linecap="butt"/>
<text x="1163" y="1796.7" font-size="30" text-anchor="start">3.0</text>
<line x1="1147" y1="1739.82" x2="1140.5" y2="1739.82" stroke="#000" stroke-width="4.0" stroke-linecap="butt"/>
<line x1="1147" y1="1691.35" x2="1134" y2="1691.35" stroke="#000" stroke-width="4.0" stroke-linecap="butt"/>
<text x="1163" y="1699.75" font-size="30" text-anchor="start">3.5</text>
<polyline points="75.6,2330.5 128.25,2313.65 180.9,2284.02 233.55,2249.16 286.2,2205 338.85,2156.2 373.95,2074.86 391.5,2145.16 444.15,2097.52 496.8,1912.18 523.12,2167.82 567,2121.92 575.77,2145.16 654.75,2052.2 707.4,2004.56 812.7,1865.7 847.8,1760.54 918,1951.11 988.2,2166.66" fill="none" stroke="#282d80" stroke-width="4.4" stroke-linejoin="round" stroke-linecap="butt"/>
<polyline points="75.6,2361 128.25,2361 180.9,2355.97 233.55,2346.19 286.2,2331.09 338.85,2309.57 391.5,2277.15 444.15,2247.24 496.8,2200.57 523.12,2178.49 575.77,2151.38 654.75,2101.9 707.4,2058.3 760.05,2006.04 812.7,1944.55 847.8,1895.07 918,1802 988.2,1751.69" fill="none" stroke="#4784c5" stroke-width="4.4" stroke-linejoin="round" stroke-linecap="butt"/>
<polyline points="75.6,2361 128.25,2357.09 180.9,2353.73 233.55,2348.7 286.2,2340.32 338.85,2329.7 373.95,2302.3 391.5,2327.18 444.15,2311.25 496.8,2220.41 523.12,2332.77 567,2320.19 575.77,2326.62 654.75,2293.36 707.4,2272.4 760.05,2234.67 812.7,2190.51 847.8,2112.24 918,2242.49 988.2,2331.93" fill="none" stroke="#f17220" stroke-width="4.4" stroke-linejoin="round" stroke-linecap="butt"/>
<polyline points="75.6,2361 128.25,2364.91 180.9,2362.4 233.55,2357.93 286.2,2351.22 338.85,2340.6 373.95,2347.03 391.5,2323.83 444.15,2297.83 496.8,2340.88 523.12,2225.72 567,2198.89 575.77,2192.46 654.75,2171.22 707.4,2151.38 760.05,2137.4 812.7,2119.51 847.8,2147.74 918,1924.98 988.2,1779.08" fill="none" stroke="#a3ce61" stroke-width="4.4" stroke-linejoin="round" stroke-linecap="butt"/>
<polyline points="75.6,2370 373.95,2370 391.5,2295.54 444.15,2370 496.8,2370 523.12,2224.57 567,2370 575.77,2336.46 654.75,2370 988.2,2370" fill="none" stroke="#7b1216" stroke-width="4.4" stroke-linejoin="round" stroke-linecap="butt"/>
<line x1="170" y1="1720.8" x2="236" y2="1720.8" stroke="#282d80" stroke-width="4.4" stroke-linecap="butt"/>
<text x="252" y="1732.3" font-size="32.5" text-anchor="start">Deviatoric stress</text>
<line x1="170" y1="1758.9" x2="236" y2="1758.9" stroke="#4784c5" stroke-width="4.4" stroke-linecap="butt"/>
<text x="252" y="1771" font-size="32.5" text-anchor="start">Total energy</text>
<line x1="170" y1="1799.4" x2="236" y2="1799.4" stroke="#f17220" stroke-width="4.4" stroke-linecap="butt"/>
<text x="252" y="1811" font-size="32.5" text-anchor="start">Elastic energy</text>
<line x1="170" y1="1839.5" x2="236" y2="1839.5" stroke="#a3ce61" stroke-width="4.4" stroke-linecap="butt"/>
<text x="252" y="1851.5" font-size="32.5" text-anchor="start">Dissipation energy</text>
<line x1="170" y1="1878.6" x2="236" y2="1878.6" stroke="#7b1216" stroke-width="4.4" stroke-linecap="butt"/>
<text x="252" y="1890" font-size="32.5" text-anchor="start">Slip dissipation energy</text>
<text x="90.5" y="1699.5" font-size="36" text-anchor="start">(c)</text>
<g transform="translate(494.1 2465.9)">
<text x="-1.3" y="0" font-size="32">Strain</text>
<path d="M75.9 0.6 L89.1 -25.2" stroke="#000" stroke-width="1.5" fill="none"/>
<text x="91.5" y="0" font-size="32">10</text>
<text x="124.4" y="-13.9" font-size="22">-2</text>
</g>
<g transform="translate(26 2172) rotate(-90)">
<text x="-0.5" y="0" font-size="32">Deviatoric stress</text>
<path d="M217.16 1.9 L230.16 -25.2" stroke="#000" stroke-width="1.3" fill="none"/>
<text x="231.56" y="0" font-size="32">MPa</text>
</g>
<g transform="translate(1117.2 2153.5) rotate(-90) scale(1.0)">
<text x="-0.5" y="0" font-size="32">Energy</text>
<path d="M94.33 1.9 L107.33 -25.2" stroke="#000" stroke-width="1.3" fill="none"/>
<path d="M122.83 2 Q109.23 -12 122.83 -26" stroke="#000" stroke-width="1.4" fill="none"/>
<text x="125.33" y="0" font-size="32">kJ·m</text>
<text x="189.33" y="-13" font-size="21">-3</text>
<path d="M210.03 2 Q223.23 -12 210.03 -26" stroke="#000" stroke-width="1.4" fill="none"/>
</g>
<g transform="translate(1239.7 2254.6) rotate(-90) scale(1.015)">
<text x="-1.3" y="0" font-size="32">Slip dissipation energy</text>
<path d="M295.23 1.9 L308.23 -25.2" stroke="#000" stroke-width="1.3" fill="none"/>
<path d="M323.73 2 Q310.13 -12 323.73 -26" stroke="#000" stroke-width="1.4" fill="none"/>
<text x="326.23" y="0" font-size="32">kJ·m</text>
<text x="390.23" y="-13" font-size="21">-3</text>
<path d="M410.93 2 Q424.13 -12 410.93 -26" stroke="#000" stroke-width="1.4" fill="none"/>
</g>
</svg></body></html>
